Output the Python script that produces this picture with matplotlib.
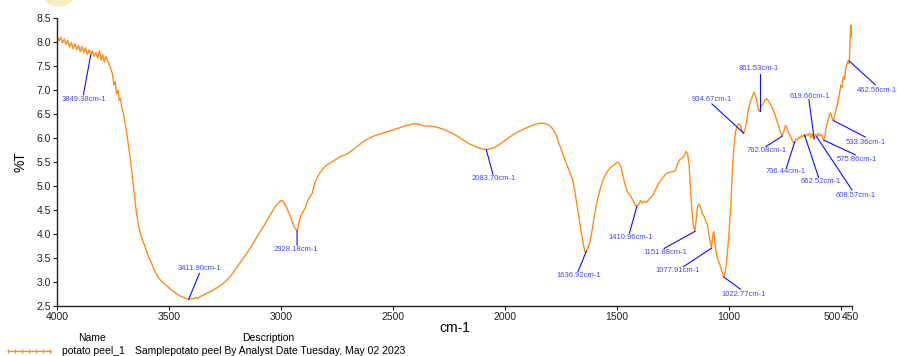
import numpy as np
import matplotlib
matplotlib.use("Agg")
import matplotlib.pyplot as plt
from matplotlib.lines import Line2D
from matplotlib.patches import Ellipse
from matplotlib.transforms import ScaledTranslation

plt.rcParams["font.family"] = ["Liberation Sans", "DejaVu Sans"]

# spectrum (wavenumber cm-1, %T)
wavenumber = [
    4000, 3990, 3983, 3975, 3968, 3960, 3952, 3944, 3936, 3928, 3920, 3912, 3904, 3896, 3888,
    3880, 3872, 3864, 3856, 3849, 3842, 3834, 3826, 3818, 3810, 3803, 3796, 3789, 3782, 3775,
    3768, 3760, 3752, 3745, 3740, 3734, 3728, 3722, 3716, 3710, 3703, 3696, 3690, 3684, 3678,
    3672, 3666, 3660, 3654, 3648, 3642, 3636, 3628, 3620, 3610, 3600, 3590, 3580, 3570, 3560,
    3545, 3530, 3515, 3500, 3485, 3470, 3455, 3440, 3425, 3412, 3400, 3390, 3380, 3370, 3360,
    3345, 3330, 3315, 3300, 3285, 3270, 3255, 3240, 3225, 3210, 3195, 3180, 3165, 3150, 3135,
    3120, 3105, 3090, 3075, 3060, 3045, 3030, 3015, 3000, 2990, 2980, 2970, 2960, 2950, 2940,
    2928, 2920, 2912, 2900, 2890, 2880, 2870, 2860, 2850, 2840, 2830, 2815, 2800, 2780, 2760,
    2740, 2720, 2700, 2680, 2660, 2640, 2620, 2600, 2580, 2560, 2540, 2520, 2500, 2480, 2460,
    2440, 2420, 2400, 2380, 2360, 2340, 2320, 2300, 2280, 2260, 2240, 2220, 2200, 2180, 2160,
    2140, 2120, 2100, 2084, 2060, 2040, 2020, 2000, 1980, 1960, 1940, 1920, 1900, 1880, 1860,
    1840, 1820, 1800, 1785, 1770, 1760, 1750, 1740, 1730, 1720, 1710, 1700, 1690, 1680, 1670,
    1660, 1650, 1642, 1636, 1628, 1620, 1610, 1600, 1590, 1580, 1570, 1560, 1550, 1540, 1530,
    1520, 1510, 1500, 1490, 1482, 1475, 1465, 1455, 1445, 1435, 1425, 1418, 1411, 1402, 1395,
    1388, 1380, 1370, 1360, 1350, 1340, 1330, 1320, 1310, 1300, 1290, 1280, 1270, 1260, 1250,
    1240, 1230, 1220, 1210, 1200, 1192, 1185, 1178, 1170, 1160, 1152, 1146, 1140, 1134, 1126,
    1118, 1110, 1102, 1096, 1090, 1084, 1078, 1072, 1068, 1062, 1055, 1048, 1040, 1030, 1023,
    1015, 1008, 1000, 992, 985, 978, 970, 962, 955, 948, 940, 935, 928, 920, 912,
    904, 896, 888, 880, 874, 868, 862, 856, 848, 840, 832, 825, 818, 810, 802,
    794, 786, 778, 770, 762, 755, 748, 742, 735, 728, 720, 712, 706, 700, 694,
    688, 682, 676, 670, 664, 658, 652, 646, 640, 634, 628, 620, 614, 608, 602,
    596, 590, 584, 576, 570, 564, 558, 552, 546, 540, 533, 527, 521, 515, 510,
    505, 500, 496, 492, 488, 484, 480, 476, 472, 468, 463, 460, 457, 455, 453,
    451,
]
transmittance = [
    8.12, 8.02, 8.10, 7.98, 8.06, 7.95, 8.03, 7.90, 7.99, 7.86, 7.96, 7.84, 7.93, 7.80, 7.91,
    7.78, 7.88, 7.74, 7.84, 7.72, 7.82, 7.70, 7.78, 7.66, 7.82, 7.62, 7.74, 7.58, 7.70, 7.62,
    7.55, 7.45, 7.33, 7.10, 7.18, 6.92, 7.00, 6.78, 6.82, 6.62, 6.50, 6.30, 6.15, 5.95, 5.75,
    5.55, 5.30, 5.05, 4.80, 4.55, 4.35, 4.18, 4.02, 3.90, 3.78, 3.65, 3.50, 3.42, 3.30, 3.20,
    3.08, 3.00, 2.94, 2.88, 2.82, 2.77, 2.72, 2.69, 2.66, 2.64, 2.66, 2.65, 2.68, 2.66, 2.70,
    2.73, 2.77, 2.80, 2.84, 2.88, 2.93, 2.98, 3.05, 3.12, 3.22, 3.32, 3.42, 3.52, 3.62, 3.72,
    3.84, 3.96, 4.07, 4.18, 4.30, 4.42, 4.54, 4.63, 4.70, 4.68, 4.60, 4.50, 4.38, 4.26, 4.14,
    4.06, 4.22, 4.38, 4.48, 4.56, 4.70, 4.78, 4.85, 5.05, 5.15, 5.25, 5.35, 5.42, 5.48, 5.54,
    5.60, 5.64, 5.68, 5.75, 5.82, 5.90, 5.96, 6.01, 6.05, 6.08, 6.11, 6.14, 6.17, 6.20, 6.23,
    6.26, 6.28, 6.30, 6.28, 6.25, 6.25, 6.24, 6.22, 6.19, 6.15, 6.11, 6.06, 6.00, 5.94, 5.88,
    5.84, 5.80, 5.77, 5.76, 5.78, 5.82, 5.88, 5.95, 6.02, 6.08, 6.13, 6.18, 6.22, 6.26, 6.29,
    6.31, 6.30, 6.26, 6.18, 6.05, 5.90, 5.78, 5.65, 5.52, 5.40, 5.28, 5.15, 4.95, 4.65, 4.35,
    4.05, 3.78, 3.62, 3.64, 3.72, 3.85, 4.10, 4.40, 4.65, 4.85, 5.02, 5.15, 5.24, 5.32, 5.38,
    5.42, 5.45, 5.50, 5.47, 5.40, 5.25, 5.05, 4.90, 4.82, 4.76, 4.66, 4.60, 4.58, 4.63, 4.70,
    4.64, 4.68, 4.66, 4.70, 4.76, 4.80, 4.90, 5.00, 5.08, 5.14, 5.20, 5.26, 5.28, 5.29, 5.30,
    5.32, 5.45, 5.55, 5.58, 5.62, 5.72, 5.68, 5.45, 4.80, 4.20, 4.05, 4.30, 4.58, 4.62, 4.54,
    4.42, 4.36, 4.25, 4.20, 4.00, 3.85, 3.70, 3.98, 4.05, 3.80, 3.55, 3.45, 3.35, 3.20, 3.10,
    3.25, 3.55, 4.00, 4.60, 5.30, 5.80, 6.15, 6.26, 6.30, 6.24, 6.12, 6.10, 6.18, 6.40, 6.62,
    6.76, 6.86, 6.96, 6.85, 6.72, 6.58, 6.55, 6.68, 6.70, 6.78, 6.82, 6.78, 6.73, 6.66, 6.58,
    6.48, 6.36, 6.25, 6.12, 6.04, 6.14, 6.26, 6.22, 6.12, 6.06, 5.98, 5.90, 5.92, 5.98, 5.96,
    6.02, 6.00, 6.05, 6.02, 6.07, 6.03, 6.08, 6.06, 6.10, 6.00, 6.09, 5.98, 6.08, 6.02, 6.10,
    6.04, 6.08, 6.04, 5.95, 6.10, 6.28, 6.35, 6.48, 6.52, 6.42, 6.36, 6.50, 6.62, 6.72, 6.85,
    6.98, 7.10, 7.05, 7.22, 7.28, 7.22, 7.40, 7.50, 7.55, 7.62, 7.55, 7.90, 8.33, 8.35, 8.20,
    8.10,
]

# labelled peaks
peak_wn = [3849.38, 3411.90, 2928.18, 2083.70, 1636.92, 1410.96, 1151.88, 1077.91, 1022.77,
           934.67, 861.53, 762.08, 706.44, 662.52, 619.66, 608.57, 575.86, 533.36, 462.56]
peak_text = ["%.2fcm-1" % w for w in peak_wn]

# where each leader line ends and where its label sits (x, y in data units)
line_end = [(3882, 6.90), (3364, 3.18), (2928, 3.77), (2054, 5.25), (1674, 3.22),
            (1444, 4.02), (1289, 3.70), (1203, 3.32), (949, 2.85), (1076, 6.71),
            (861.53, 7.34), (835, 5.82), (744, 5.37), (600, 5.18), (643, 6.80),
            (451, 4.92), (436, 5.65), (391, 6.02), (347, 7.11)]
text_pos = [(3879, 6.81), (3362, 3.29), (2933, 3.68), (2050, 5.15), (1670, 3.13),
            (1441, 3.93), (1285, 3.61), (1231, 3.24), (936, 2.74), (1076, 6.80),
            (868, 7.44), (833, 5.74), (747, 5.30), (592, 5.09), (641, 6.87),
            (436, 4.81), (430, 5.56), (390, 5.91), (338, 7.00)]

x_ticks = [4000, 3500, 3000, 2500, 2000, 1500, 1000, 500, 450]
y_ticks = [2.5, 3.0, 3.5, 4.0, 4.5, 5.0, 5.5, 6.0, 6.5, 7.0, 7.5, 8.0, 8.5]

orange = "#ff8c1a"

fig = plt.figure(figsize=(8.97, 3.56), dpi=100)
ax = fig.add_axes([0.0635, 0.1404, 0.8865, 0.809])

ax.plot(wavenumber, transmittance, color=orange, lw=1.0)

curve_x = np.array(wavenumber[::-1])
curve_y = np.array(transmittance[::-1])
for wn, txt, (ex, ey), (tx, ty) in zip(peak_wn, peak_text, line_end, text_pos):
    py = np.interp(wn, curve_x, curve_y)
    ax.plot([wn, ex], [py, ey], color="#1010ee", lw=0.8, clip_on=False)
    ax.text(tx, ty, txt, color="#4646ff", fontsize=5.5, ha="center", va="center",
            clip_on=False)

ax.set_xlim(4000, 450)
ax.set_ylim(2.5, 8.5)
ax.set_xticks(x_ticks)
ax.set_xticklabels([str(t) for t in x_ticks])
ax.set_yticks(y_ticks)
ax.set_yticklabels(["%.1f" % t for t in y_ticks])
ax.tick_params(direction="out", length=3, width=0.8, pad=1.5, labelsize=7.5,
               colors="#222222")
# 500 and 450 labels run together like "500450"
labels = ax.get_xticklabels()
labels[-2].set_horizontalalignment("right")
labels[-1].set_horizontalalignment("left")
labels[-1].set_transform(labels[-1].get_transform()
                         + ScaledTranslation(-0.105, 0, fig.dpi_scale_trans))
for s in ["top", "right"]:
    ax.spines[s].set_visible(False)
for s in ["left", "bottom"]:
    ax.spines[s].set_linewidth(1.0)
    ax.spines[s].set_color("#222222")

ax.set_xlabel("cm-1", fontsize=10, labelpad=-1)
ax.set_ylabel("%T", fontsize=10, labelpad=6)

# legend table under the plot
fig.text(92 / 897, 1 - 338 / 356, "Name", fontsize=7.5, ha="center", va="center")
fig.text(268 / 897, 1 - 338 / 356, "Description", fontsize=7.5, ha="center", va="center")
leg_x = np.linspace(8, 50, 7) / 897
fig.add_artist(Line2D(leg_x, [1 - 351 / 356] * len(leg_x), color=orange, lw=0.9,
                      marker="|", markersize=2.5, transform=fig.transFigure))
fig.text(62 / 897, 1 - 351 / 356, "potato peel_1", fontsize=7.5, ha="left", va="center")
fig.text(135 / 897, 1 - 351 / 356, "Samplepotato peel By Analyst Date Tuesday, May 02 2023",
         fontsize=7.5, ha="left", va="center")

# faint logo circle peeking in at the top
fig.add_artist(Ellipse((0.59, 3.68), 0.36, 0.36, color="#fbe9b5", alpha=0.8,
                       transform=fig.dpi_scale_trans, zorder=0))

fig.savefig("out.png", dpi=100)
